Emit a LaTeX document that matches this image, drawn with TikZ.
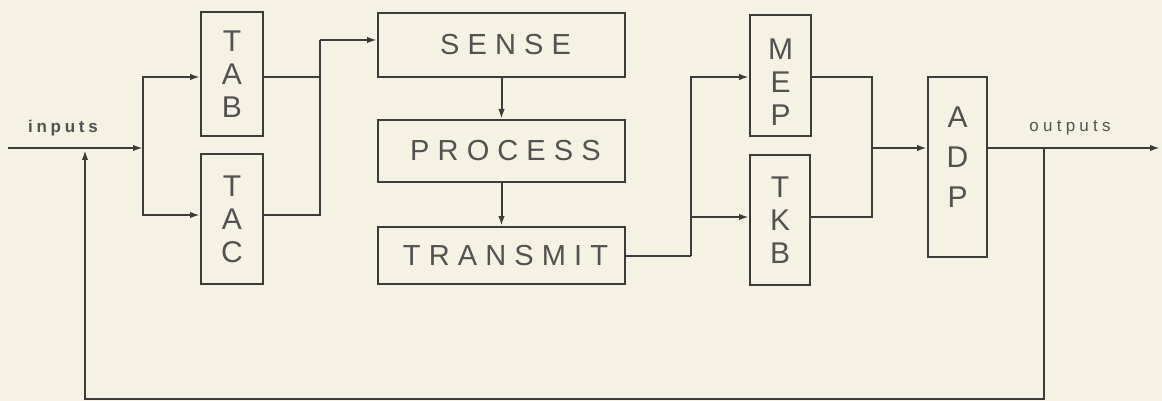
\documentclass[tikz,border=0pt]{standalone}
\usepackage{fontspec}
\setmainfont{Liberation Sans}
\usetikzlibrary{arrows.meta,calc}
\definecolor{bg}{HTML}{F5F2E3}
\definecolor{ink}{HTML}{3E3C3A}
\definecolor{txt}{HTML}{545250}
\tikzset{
  blk/.style={draw=ink, line width=2pt, inner sep=0pt, text=txt},
  vtext/.style={align=center, font=\fontsize{30}{33}\selectfont},
  htext/.style={font=\fontsize{29}{33}\selectfont\addfontfeature{LetterSpace=28}},
  wire/.style={draw=ink, line width=2pt},
  arr/.style={wire, -{Latex[length=10pt,width=6.5pt]}},
  lbl/.style={text=txt, inner sep=0pt, font=\fontsize{17}{20}\selectfont\addfontfeature{LetterSpace=25}}
}
\begin{document}
\begin{tikzpicture}[x=1pt,y=-1pt]
\useasboundingbox (0,0) rectangle (1162,401);
\fill[bg] (0,0) rectangle (1162,401);

% boxes
\node[blk, vtext, minimum width=62pt, minimum height=124pt] (TAB) at (232,74) {T\\A\\B};
\node[blk, vtext, minimum width=62pt, minimum height=130pt] (TAC) at (232,219) {T\\A\\C};
\node[blk, htext, minimum width=247pt, minimum height=64pt] (SENSE) at (501.5,45) {SENSE\kern-8pt};
\node[blk, htext, minimum width=247pt, minimum height=62pt] (PROCESS) at (501.5,151) {PROCESS\kern-8pt};
\node[blk, htext, minimum width=247pt, minimum height=57pt] (TRANSMIT) at (501.5,255.5) {TRANSMIT\kern-8pt};
\node[blk, vtext, minimum width=61pt, minimum height=121pt] (MEP) at (780.5,75.5) {};
\node[text=txt, vtext, inner sep=0pt] (MEPt) at (780.5,82) {M\\E\\P};
\node[blk, vtext, minimum width=60pt, minimum height=130pt] (TKB) at (780,220) {T\\K\\B};
\node[blk, minimum width=59pt, minimum height=180pt] (ADP) at (957.5,167) {};
\node[text=txt, align=center, inner sep=0pt, font=\fontsize{30}{40}\selectfont] (ADPt) at (957.5,157) {A\\D\\P};

% labels
\node[lbl, font=\fontsize{17}{20}\selectfont\bfseries\addfontfeature{LetterSpace=22}] (inlbl) at (63,128) {inputs};
\node[lbl] (outlbl) at (1070,128) {outputs};

% junctions
\coordinate (inL) at (8,148);
\coordinate (j1) at (143,148);
\coordinate (j2) at (320,40);
\coordinate (j4) at (691,255.5);
\coordinate (j3) at (872,148);
\coordinate (outR) at (1160,148);
\coordinate (jout) at (1044,148);
\coordinate (fbin) at (85,150);
\coordinate (bot) at (0,398.5);

% connectors
\draw[arr] (inL) -- (j1);
\draw[arr] (j1) |- ([yshift=-3pt]TAB.west);
\draw[arr] (j1) |- ([yshift=4pt]TAC.west);
\draw[wire] ([yshift=-3pt]TAB.east) -| (j2);
\draw[wire] ([yshift=4pt]TAC.east) -| (j2);
\draw[arr] (j2) -- (j2 -| SENSE.west);
\draw[arr] (SENSE.south) -- (PROCESS.north);
\draw[arr] (PROCESS.south) -- (TRANSMIT.north);
\draw[wire] (TRANSMIT.east) -- (j4);
\draw[arr] (j4) |- ([yshift=-1.5pt]MEP.west);
\draw[arr] (j4) |- ([yshift=3pt]TKB.west);
\draw[wire] ([yshift=-1.5pt]MEP.east) -| (j3);
\draw[wire] ([yshift=3pt]TKB.east) -| (j3);
\draw[arr] (j3) -- (j3 -| ADP.west);
\draw[arr] (j3 -| ADP.east) -- (outR);
\draw[arr] (jout) -- (jout |- bot) -- (fbin |- bot) -- (fbin);
\end{tikzpicture}
\end{document}
